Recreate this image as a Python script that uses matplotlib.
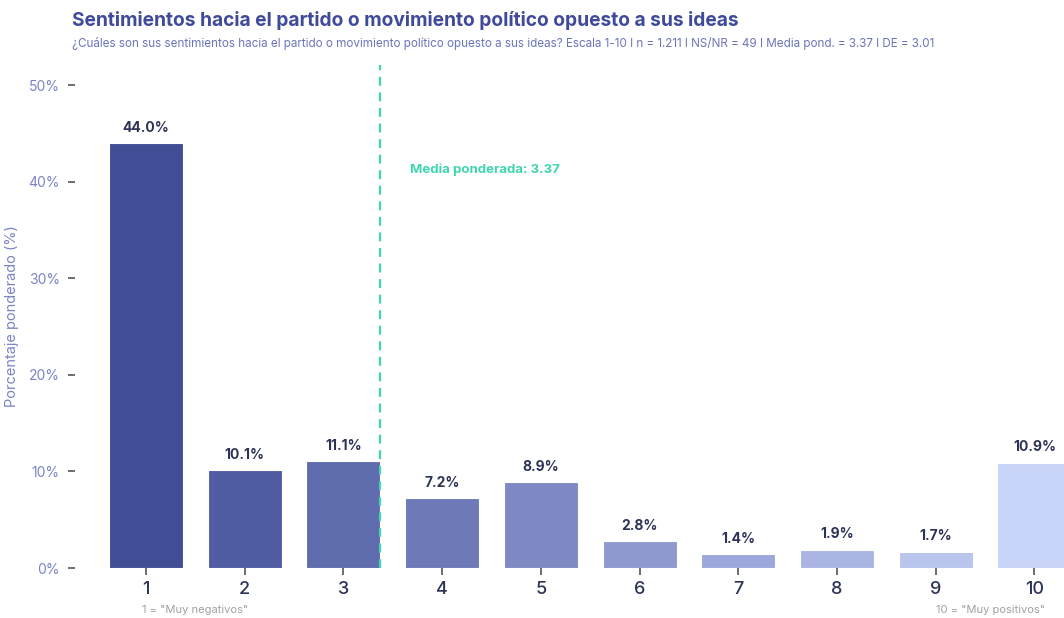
import numpy as np
import matplotlib
matplotlib.use("Agg")
import matplotlib.pyplot as plt
import matplotlib.ticker as mtick

# data
categories = [1, 2, 3, 4, 5, 6, 7, 8, 9, 10]
values = [44.0, 10.1, 11.1, 7.2, 8.9, 2.8, 1.4, 1.9, 1.7, 10.9]
bar_colors = ["#414e96", "#515da3", "#5f6cae", "#6e7ab8", "#7f8ac4",
              "#8d99cf", "#9ca8dc", "#aab5e3", "#bac5ee", "#c8d4f8"]
mean_value = 3.37
y_ticks = [0, 10, 20, 30, 40, 50]

title = "Sentimientos hacia el partido o movimiento político opuesto a sus ideas"
subtitle = ("¿Cuáles son sus sentimientos hacia el partido o movimiento político opuesto a sus ideas? "
            "Escala 1-10 I n = 1.211 I NS/NR = 49 I Media pond. = 3.37 I DE = 3.01")

plt.rcParams['font.family'] = ['Inter', 'DejaVu Sans']

fig = plt.figure(figsize=(10.64, 6.18), dpi=100)
ax = fig.add_axes([75 / 1064, 1 - 568 / 618, 1 - 75 / 1064, (568 - 65) / 618])

ax.bar(categories, values, width=0.75, color=bar_colors, edgecolor="white", linewidth=0.8, zorder=2)
for x, v in zip(categories, values):
    ax.annotate(f"{v:.1f}%", (x, v), xytext=(0, 6), textcoords="offset points",
                ha="center", va="bottom", fontsize=10, fontweight="bold", color="#2d3357")

ax.axvline(mean_value, color="#3fd6b0", linestyle=(0, (4, 3)), linewidth=1.6, zorder=3)
ax.text(mean_value + 0.3, 41.3, f"Media ponderada: {mean_value:.2f}", color="#3fd6b0",
        fontsize=9.5, fontweight="bold", va="center", ha="left")

ax.set_xlim(0.28, 10.3)
ax.set_ylim(0, 52.1)
ax.set_xticks(categories)
ax.set_xticklabels([str(c) for c in categories], fontsize=13, color="#2d3357", fontweight="medium")
ax.set_yticks(y_ticks)
ax.yaxis.set_major_formatter(mtick.PercentFormatter(decimals=0))
ax.tick_params(axis="y", length=5, width=1.2, color="#555555", labelcolor="#7b84c4", labelsize=10, pad=6)
ax.tick_params(axis="x", length=5, width=1.2, color="#555555", pad=4)
for s in ax.spines.values():
    s.set_visible(False)
ax.set_ylabel("Porcentaje ponderado (%)", color="#7b84c4", fontsize=10.5)
ax.yaxis.set_label_coords(-(75 - 19) / (1064 - 75), 0.5)

fig.text(72 / 1064, 1 - 20 / 618, title, fontsize=13.8, fontweight="bold", color="#3f4b9a",
         ha="left", va="center")
fig.text(72 / 1064, 1 - 44 / 618, subtitle, fontsize=8.4, color="#6b74b8", ha="left", va="center")
fig.text(195 / 1064, 1 - 610 / 618, '1 = "Muy negativos"', fontsize=8, color="#a0a0a0",
         ha="center", va="center")
fig.text(990 / 1064, 1 - 610 / 618, '10 = "Muy positivos"', fontsize=8, color="#a0a0a0",
         ha="center", va="center")

fig.savefig("out.png", dpi=100)
